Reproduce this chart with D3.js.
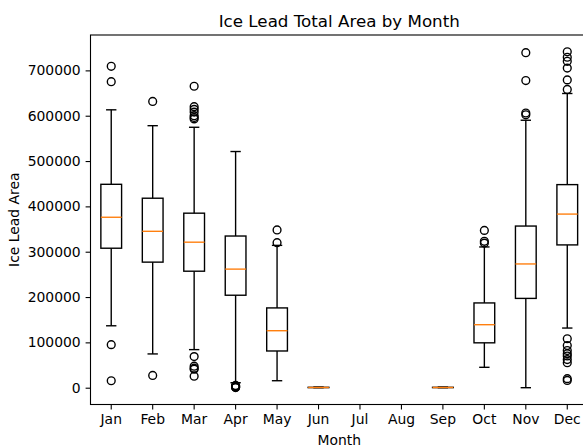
<!DOCTYPE html>
<html><head><meta charset="utf-8">
<script src="https://cdn.jsdelivr.net/npm/d3@7"></script>
<style>
html,body{margin:0;padding:0;background:#fff;overflow:hidden}
text{font-family:"DejaVu Sans",sans-serif;fill:#000}
</style></head>
<body>
<svg id="chart" width="583" height="447"></svg>
<script>
const months = ["Jan","Feb","Mar","Apr","May","Jun","Jul","Aug","Sep","Oct","Nov","Dec"];
const whiskerLow  = [136600, 74500, 84000, 11000, 15400, 0, null, null, 0, 45000, 0, 131600];
const q1          = [307700, 277000, 257000, 204000, 81000, 200, null, null, 200, 99000, 197000, 315000];
const median      = [376000, 345000, 321000, 261600, 125700, 500, null, null, 500, 139000, 273000, 383000];
const q3          = [448700, 418000, 385000, 334600, 176000, 900, null, null, 900, 187000, 356600, 448000];
const whiskerHigh = [613000, 578000, 574500, 521000, 314000, 1500, null, null, 1500, 310500, 590000, 649000];
const outliers = [
  [709000, 675000, 95000, 15400],
  [631500, 27000],
  [665000, 620000, 614000, 608000, 600000, 596000, 593000, 68600, 47400, 43000, 40800, 25400],
  [5000, 3500, 2500, 1500, 800, 300],
  [348000, 320000],
  [],
  [],
  [],
  [],
  [347000, 323000, 319000],
  [739000, 677600, 606000, 602000],
  [741000, 729000, 720000, 705000, 679000, 658000, 108000, 93000, 82000, 75000, 70000, 62000, 55000, 20000, 16000]
];
const yTicks = [0, 100000, 200000, 300000, 400000, 500000, 600000, 700000];

const L = 90.5, R = 588, T = 35, B = 404.5;
const svg = d3.select("#chart");
svg.append("rect").attr("width",583).attr("height",447).attr("fill","#fff");

const x = d3.scaleBand().domain(months).range([L, R]).paddingInner(0).paddingOuter(0);
const allVals = [];
months.forEach((m,i)=>{ if(whiskerLow[i]!==null){allVals.push(whiskerLow[i], whiskerHigh[i]);} allVals.push(...outliers[i]); });
const vmin = d3.min(allVals), vmax = d3.max(allVals), pad = (vmax - vmin) * 0.05;
const y = d3.scaleLinear().domain([vmin - pad, vmax + pad]).range([B, T]);

const lw = 1.39;
const g = svg.append("g");
months.forEach((m,i)=>{
  if (whiskerLow[i] === null) return;
  const cx = x(m) + x.bandwidth()/2;
  const bw = x.bandwidth()*0.5, cw = bw*0.5;
  g.append("line").attr("x1",cx).attr("x2",cx).attr("y1",y(q3[i])).attr("y2",y(whiskerHigh[i])).attr("stroke","#000").attr("stroke-width",lw);
  g.append("line").attr("x1",cx).attr("x2",cx).attr("y1",y(q1[i])).attr("y2",y(whiskerLow[i])).attr("stroke","#000").attr("stroke-width",lw);
  [whiskerHigh[i], whiskerLow[i]].forEach(v=>{
    g.append("line").attr("x1",cx-cw/2).attr("x2",cx+cw/2).attr("y1",y(v)).attr("y2",y(v)).attr("stroke","#000").attr("stroke-width",lw);
  });
  g.append("rect").attr("x",cx-bw/2).attr("width",bw).attr("y",y(q3[i])).attr("height",Math.max(0,y(q1[i])-y(q3[i])))
    .attr("fill","none").attr("stroke","#000").attr("stroke-width",lw);
  g.append("line").attr("x1",cx-bw/2).attr("x2",cx+bw/2).attr("y1",y(median[i])).attr("y2",y(median[i])).attr("stroke","#ff7f0e").attr("stroke-width",lw);
  outliers[i].forEach(v=>{
    g.append("circle").attr("cx",cx).attr("cy",y(v)).attr("r",3.9).attr("fill","none").attr("stroke","#000").attr("stroke-width",lw);
  });
});

const yAxis = d3.axisLeft(y).tickValues(yTicks).tickFormat(d3.format("d")).tickSize(4.9).tickPadding(4.9);
const ya = svg.append("g").attr("transform",`translate(${L},0)`).call(yAxis);
const xAxis = d3.axisBottom(x).tickSize(4.9).tickPadding(4.9);
const xa = svg.append("g").attr("transform",`translate(0,${B})`).call(xAxis);
[ya, xa].forEach(a=>{
  a.select(".domain").remove();
  a.selectAll(".tick line").attr("stroke","#000").attr("stroke-width",1.1);
  a.selectAll(".tick text").attr("font-family","DejaVu Sans").attr("font-size","13.9px").attr("fill","#000");
});

svg.append("rect").attr("x",L).attr("y",T).attr("width",R-L).attr("height",B-T).attr("fill","none").attr("stroke","#000").attr("stroke-width",1.1);

svg.append("text").attr("x",(L+R)/2).attr("y",26.5).attr("text-anchor","middle").attr("font-size","16.7px").text("Ice Lead Total Area by Month");
svg.append("text").attr("x",(L+R)/2).attr("y",445).attr("text-anchor","middle").attr("font-size","13.9px").text("Month");
svg.append("text").attr("transform",`translate(19.3,${(T+B)/2}) rotate(-90)`).attr("text-anchor","middle").attr("font-size","13.9px").text("Ice Lead Area");
</script>
</body></html>
